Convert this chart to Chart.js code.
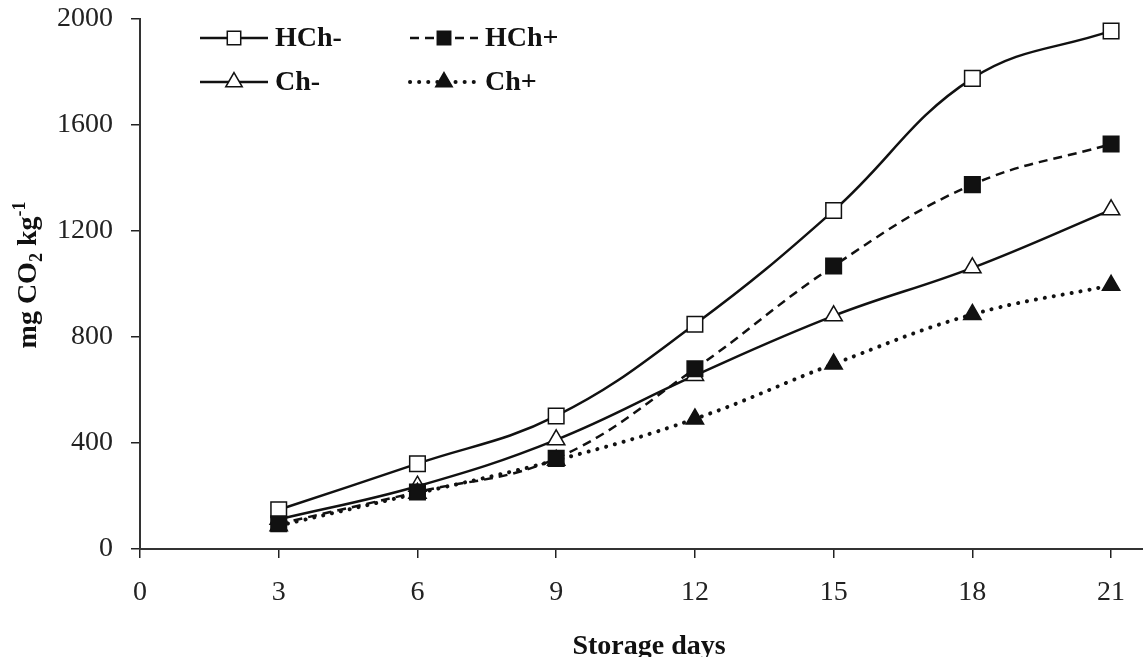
<!DOCTYPE html>
<html>
<head>
<meta charset="utf-8">
<script src="https://cdn.jsdelivr.net/npm/chart.js@4.4.1/dist/chart.umd.min.js"></script>
<style>
  html, body { margin: 0; padding: 0; background: #fff; }
  #wrap { width: 1143px; height: 657px; position: relative; }
</style>
</head>
<body>
<div id="wrap"><canvas id="co2Chart"></canvas></div>
<script>
// values (mg CO2 per kg, per storage day)
const days = [3, 6, 9, 12, 15, 18, 21];
const hchMinus = [148, 322, 502, 848, 1277, 1776, 1955];
const hchPlus = [95, 215, 342, 680, 1068, 1375, 1528];
const chMinus = [112, 237, 412, 655, 880, 1061, 1280];
const chPlus = [88, 210, 335, 491, 698, 885, 995];

const xTicks = [0, 3, 6, 9, 12, 15, 18, 21];
const yTicks = [0, 400, 800, 1200, 1600, 2000];

const serif = '"Liberation Serif", "Times New Roman", serif';
const ink = '#111';

function toPoints(values) {
  return days.map((d, i) => ({ x: d, y: values[i] }));
}

// legend is laid out in two columns at the top left of the plot
const legendSlots = [
  { index: 0, x: 200, y: 38 },
  { index: 1, x: 410, y: 38 },
  { index: 2, x: 200, y: 82 },
  { index: 3, x: 410, y: 82 }
];

const legendPlugin = {
  id: 'cornerLegend',
  afterDraw(chart) {
    const ctx = chart.ctx;
    legendSlots.forEach(slot => {
      const ds = chart.data.datasets[slot.index];
      ctx.save();
      ctx.strokeStyle = ds.borderColor;
      ctx.lineWidth = ds.borderWidth;
      ctx.lineCap = ds.borderCapStyle || 'butt';
      ctx.setLineDash(ds.borderDash || []);
      ctx.beginPath();
      ctx.moveTo(slot.x, slot.y);
      ctx.lineTo(slot.x + 68, slot.y);
      ctx.stroke();
      ctx.setLineDash([]);
      ctx.fillStyle = ds.pointBackgroundColor;
      ctx.strokeStyle = ds.pointBorderColor;
      ctx.lineWidth = ds.pointBorderWidth;
      Chart.helpers.drawPoint(ctx, {
        pointStyle: ds.pointStyle, radius: 9.5, rotation: 0, borderWidth: ds.pointBorderWidth
      }, slot.x + 34, slot.y);
      ctx.fillStyle = ink;
      ctx.font = 'bold 28px ' + serif;
      ctx.textBaseline = 'middle';
      ctx.textAlign = 'left';
      ctx.fillText(ds.label, slot.x + 75, slot.y + 1);
      ctx.restore();
    });
  }
};

// axis titles, the y one needs a subscript and a superscript
const titlesPlugin = {
  id: 'axisTitles',
  afterDraw(chart) {
    const ctx = chart.ctx;
    const big = 'bold 28px ' + serif;
    const small = 'bold 18px ' + serif;
    const parts = [['mg CO', big, 0], ['2', small, 6], [' kg', big, 0], ['-1', small, -11]];
    ctx.save();
    ctx.fillStyle = ink;
    let total = 0;
    parts.forEach(p => { ctx.font = p[1]; total += ctx.measureText(p[0]).width; });
    ctx.translate(36, 275);
    ctx.rotate(-Math.PI / 2);
    ctx.textBaseline = 'alphabetic';
    ctx.textAlign = 'left';
    let x = -total / 2;
    parts.forEach(p => {
      ctx.font = p[1];
      ctx.fillText(p[0], x, p[2]);
      x += ctx.measureText(p[0]).width;
    });
    ctx.restore();

    ctx.save();
    ctx.fillStyle = ink;
    ctx.font = big;
    ctx.textAlign = 'center';
    ctx.textBaseline = 'alphabetic';
    ctx.fillText('Storage days', 649, 654);
    ctx.restore();
  }
};

const ctx = document.getElementById('co2Chart').getContext('2d');

new Chart(ctx, {
  type: 'line',
  data: {
    datasets: [
      {
        label: 'HCh-',
        data: toPoints(hchMinus),
        borderColor: ink,
        borderWidth: 2.5,
        pointStyle: 'rect',
        pointRadius: 11,
        pointBackgroundColor: '#fff',
        pointBorderColor: ink,
        pointBorderWidth: 1.5,
        tension: 0.4,
        order: 1
      },
      {
        label: 'HCh+',
        data: toPoints(hchPlus),
        borderColor: ink,
        borderWidth: 2.5,
        borderDash: [9, 6],
        pointStyle: 'rect',
        pointRadius: 11,
        pointBackgroundColor: ink,
        pointBorderColor: ink,
        pointBorderWidth: 1.5,
        tension: 0.4,
        order: 0
      },
      {
        label: 'Ch-',
        data: toPoints(chMinus),
        borderColor: ink,
        borderWidth: 2.5,
        pointStyle: 'triangle',
        pointRadius: 10,
        pointBackgroundColor: '#fff',
        pointBorderColor: ink,
        pointBorderWidth: 1.5,
        tension: 0.4,
        order: 3
      },
      {
        label: 'Ch+',
        data: toPoints(chPlus),
        borderColor: ink,
        borderWidth: 4,
        borderDash: [0.1, 9],
        borderCapStyle: 'round',
        pointStyle: 'triangle',
        pointRadius: 10,
        pointBackgroundColor: ink,
        pointBorderColor: ink,
        pointBorderWidth: 1.5,
        tension: 0.4,
        order: 2
      }
    ]
  },
  options: {
    responsive: true,
    maintainAspectRatio: false,
    animation: false,
    events: [],
    layout: { autoPadding: false, padding: { top: 19, left: 0, right: 0, bottom: 0 } },
    plugins: {
      legend: { display: false },
      tooltip: { enabled: false }
    },
    scales: {
      x: {
        type: 'linear',
        min: 0,
        max: 21.69,
        afterBuildTicks: scale => { scale.ticks = xTicks.map(v => ({ value: v })); },
        afterFit: scale => {
          scale.height = 108;
          scale.paddingLeft = 0;
          scale.paddingRight = 0;
        },
        ticks: {
          color: '#222',
          padding: 18,
          maxRotation: 0,
          font: { family: serif, size: 28 },
          callback: v => String(v)
        },
        grid: { drawOnChartArea: false, drawTicks: true, tickLength: 9, color: '#222', lineWidth: 1.5 },
        border: { display: true, color: '#333', width: 2 }
      },
      y: {
        min: 0,
        max: 2000,
        afterBuildTicks: scale => { scale.ticks = yTicks.map(v => ({ value: v })); },
        afterFit: scale => {
          scale.width = 140;
          scale.paddingTop = 0;
          scale.paddingBottom = 0;
        },
        ticks: {
          color: '#222',
          padding: 18,
          font: { family: serif, size: 28 },
          callback: v => String(v)
        },
        grid: { drawOnChartArea: false, drawTicks: true, tickLength: 9, color: '#222', lineWidth: 1.5 },
        border: { display: true, color: '#333', width: 2 }
      }
    }
  },
  plugins: [legendPlugin, titlesPlugin]
});
</script>
</body>
</html>
